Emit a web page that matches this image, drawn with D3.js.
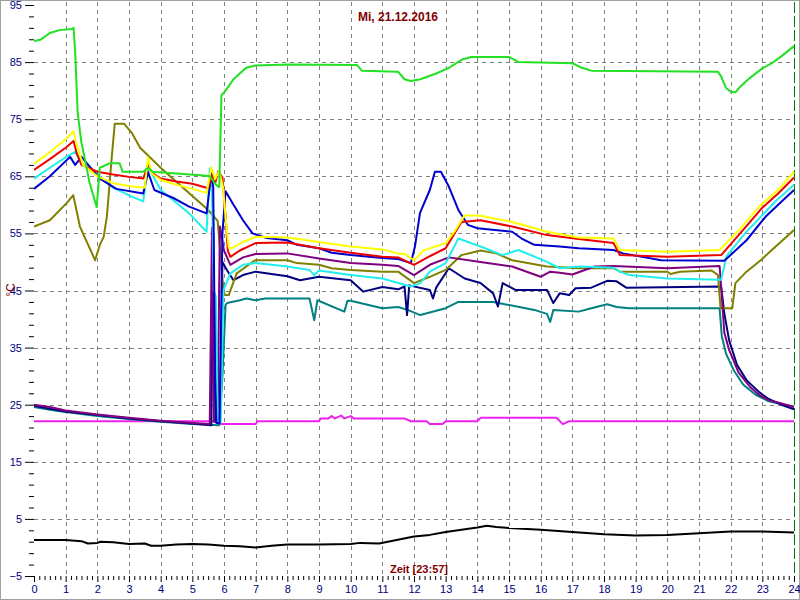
<!DOCTYPE html>
<html><head><meta charset="utf-8">
<script src="https://cdn.jsdelivr.net/npm/d3@7"></script>
<style>html,body{margin:0;padding:0;background:#fff;}svg{display:block;}</style>
</head><body>
<script>
// ---- data: [hour, °C] ----
const title = "Mi, 21.12.2016";
const xTitle = "Zeit [23:57]";
const yTitle = "°C";
const xTickLabels = d3.range(0, 25);
const yTickLabels = [-5, 5, 15, 25, 35, 45, 55, 65, 75, 85, 95];

const green = [[0,88.7],[0.2,88.9],[0.5,90.1],[0.8,90.6],[1.2,90.8],[1.25,91.0],[1.3,86.8],[1.38,76.1],[1.5,70.8],[1.55,69.6],[1.75,64],[1.98,59.6],[2.08,66.5],[2.4,67.3],[2.7,67.3],[2.8,65.8],[3.45,65.8],[3.6,66.5],[3.75,65.8],[5.25,65.2],[5.55,65],[5.75,63.5],[5.85,63.1],[5.92,79.2],[6.05,80],[6.3,82],[6.7,84],[7,84.4],[8,84.6],[10.2,84.5],[10.35,83.5],[11.5,83.3],[11.7,82],[11.9,81.7],[12.2,82],[12.7,83],[13.1,84],[13.5,85.4],[13.8,85.9],[15,85.9],[15.3,85],[17,84.8],[17.3,84],[17.6,83.5],[21.6,83.3],[21.7,82.5],[21.85,80.5],[22.0,79.8],[22.15,79.7],[22.3,80.7],[22.6,82.2],[23,83.9],[23.3,84.8],[23.6,86],[24,87.8]];
const yellow = [[0,67.2],[0.5,69.2],[1,71.5],[1.25,72.9],[1.35,70.5],[1.55,67],[2,65],[2.5,63.8],[3,63.3],[3.5,63],[3.6,68.3],[3.72,65.5],[4,64.4],[4.5,63.5],[5,62.8],[5.45,62.1],[5.6,66.6],[5.72,64.5],[5.85,66],[5.97,63],[6.08,56],[6.15,52.5],[6.25,52.4],[6.6,53.5],[7,54.4],[8,54.3],[9,53.5],[10,52.7],[11,52.2],[11.5,51.5],[11.7,51.4],[12,50.3],[12.3,52],[13,53.3],[13.3,55.5],[13.6,58.2],[14.1,58.1],[15.1,57],[16.2,55.3],[17.2,54.3],[18.3,54.1],[18.5,52.1],[20,51.8],[21.65,52.1],[22.3,55.8],[22.9,59.7],[23.5,62.6],[24,65.8]];
const red = [[0,66.1],[0.5,68],[1,70],[1.25,71.2],[1.35,69],[1.5,67],[2,65.8],[2.5,65.3],[3,64.9],[3.45,64.6],[3.6,67],[3.75,65.5],[4,64.6],[4.5,64.1],[5,63.7],[5.5,62.9],[5.62,65.2],[5.72,63.8],[5.82,65.9],[5.95,64.8],[6.05,58],[6.12,52],[6.2,50.9],[6.5,52],[7,53.3],[8,53.4],[9,52.4],[10,51.6],[11,50.9],[11.5,50.8],[12,49.5],[12.5,51],[13,52.4],[13.5,57],[14.1,57.3],[15.1,56.2],[16.2,54.7],[17.2,54.0],[18.3,53.3],[18.5,51.2],[20,50.9],[21.7,51.2],[22.3,55],[23,59.5],[23.5,62],[24,64.8]];
const blue = [[0,62.8],[0.5,65],[1.14,68.4],[1.3,67],[1.5,68.4],[2.08,64.6],[2.6,62.8],[3.45,62],[3.6,65.8],[3.8,62.6],[4.4,61.2],[4.9,59.7],[5.45,58.5],[5.6,65.5],[5.66,63],[5.72,30],[5.76,21.8],[5.86,21.8],[5.95,55],[6.05,62.4],[6.3,60],[6.6,57.3],[6.9,55],[7.35,54.2],[8,53.8],[8.3,53],[9,52.4],[9.4,51.6],[10,51.2],[11,50.7],[11.5,50.5],[11.9,49.8],[12.03,52.7],[12.19,58.6],[12.5,62.6],[12.66,65.8],[12.85,65.8],[13.1,63.2],[13.4,59.1],[13.7,56.5],[14,55.9],[15.1,55.3],[15.4,54.1],[15.8,53],[16.6,52.7],[17.2,52.4],[18.3,52.1],[18.6,51.5],[19.8,50.3],[21.8,50.2],[22.5,53.8],[23.1,57.9],[23.65,60.8],[24,62.6]];
const cyan = [[0,64.6],[0.5,66.5],[1,68.3],[1.3,69.3],[1.5,67.3],[2.08,64.9],[2.5,63],[3.1,61.4],[3.45,60.6],[3.6,66.7],[4,62.6],[4.4,60.8],[4.9,58.5],[5.45,55.3],[5.55,66.4],[5.62,62],[5.68,45],[5.74,44],[5.8,22],[5.9,22],[5.98,45],[6.2,48],[6.6,49.5],[7,49.8],[8,49.2],[8.7,48.6],[8.85,47.7],[9,48.5],[10,47.7],[11,47.1],[11.9,45.7],[12.2,46.3],[12.5,48.3],[13,49.8],[13.4,54.1],[14.1,52.7],[14.8,51.2],[15.3,52.1],[16.2,50],[16.6,48.9],[17.2,49.2],[18.3,49],[18.5,48.3],[18.8,47.7],[20,47.1],[21.7,46.9],[21.87,51],[22.5,55.3],[23.45,60.8],[24,63.5]];
const purple = [[0,25],[0.5,24.6],[1,24],[2,23.3],[3,22.7],[4,22.2],[5,21.8],[5.55,21.6],[5.62,56],[5.68,22],[5.8,22],[5.87,56.2],[6.0,52],[6.2,49.5],[6.6,50.8],[7,51.4],[8,51.5],[9,50.6],[10,49.8],[11,49.5],[11.5,49.3],[12,47.7],[12.5,49.5],[13.1,50.8],[14.1,50],[15.1,49.2],[16,47.4],[16.3,48.3],[16.6,48.1],[17,47.8],[17.7,49.2],[18.3,49.3],[20,48.9],[21.65,49.3],[21.72,44],[21.8,37.6],[21.95,34.6],[22.25,30.6],[22.6,28.2],[22.9,26.7],[23.2,25.8],[23.55,25.3],[24,24.6]];
const olive = [[0,56.2],[0.5,57.3],[1.03,60.3],[1.24,61.7],[1.45,56.2],[1.93,50.3],[2.08,53],[2.2,54.4],[2.3,57.9],[2.45,68],[2.55,74.2],[2.85,74.2],[3.1,72.5],[3.35,70],[4,66.5],[4.6,63.5],[5.5,59.1],[5.8,57.2],[5.95,47],[6.02,44.2],[6.15,44.2],[6.4,48],[6.9,50],[7,50.3],[8,50.3],[8.3,49.8],[9,49.5],[9.4,48.9],[10,48.6],[11,48.3],[11.5,48.3],[12,46.3],[12.5,47.4],[13,48.6],[13.5,51.2],[14.1,52],[14.6,51.5],[15.1,50.3],[16.2,49.2],[17.2,48.9],[18.3,48.9],[18.5,48.3],[20,48.3],[20.1,47.9],[20.4,48.3],[21.4,48.5],[21.6,47.7],[21.68,41.9],[22.05,41.9],[22.15,46.3],[22.5,48.3],[22.95,50.3],[23.3,52.1],[24,55.6]];
const navy = [[0,24.8],[0.5,24.3],[1,23.8],[2,23.2],[3,22.6],[4,22.1],[5,21.7],[5.6,21.4],[5.66,55],[5.73,22],[5.87,22],[5.95,50],[6.1,48.5],[6.3,46.8],[6.6,47.7],[7,48.3],[8,47.5],[8.4,46.8],[9,47.4],[9.5,47.1],[10,46.8],[10.4,44.8],[11,45.6],[11.5,45.2],[11.7,45.7],[11.78,40.7],[11.85,45.9],[12.5,45.1],[12.6,43.6],[12.7,45.5],[13.1,48.9],[13.6,47.1],[14.1,46.3],[14.5,44.5],[14.65,42.2],[14.8,46.3],[15.2,45.1],[16.2,45.1],[16.4,42.8],[16.6,44.5],[16.9,44.2],[17.1,45.4],[17.6,45.5],[18.1,46.7],[18.4,46.6],[18.7,45.5],[21.7,45.7],[21.8,41],[21.95,36.3],[22.2,32],[22.5,29.3],[22.9,27.2],[23.2,26],[23.6,25],[24,24.2]];
const teal = [[0,24.6],[0.5,24.1],[1,23.7],[2,23],[3,22.5],[4,22],[5,21.6],[5.85,21.4],[5.95,30],[6.05,42.5],[6.1,42.8],[6.5,43.3],[6.7,43.6],[7,43.3],[7.3,43.6],[8.7,43.6],[8.85,39.8],[8.95,43.3],[9.8,41.3],[9.9,43.2],[10,43.2],[11,41.9],[11.5,42.1],[11.8,41.6],[12.2,40.7],[13,41.9],[13.4,43],[14.5,43],[15.8,41.6],[16.2,40.9],[16.3,39.5],[16.4,41.6],[17.2,41.3],[17.6,41.9],[18.1,42.6],[18.4,42.1],[18.8,41.9],[21.65,41.9],[21.72,37],[21.85,34],[22.1,31],[22.4,28.5],[22.8,26.7],[23.2,25.6],[23.6,25.1],[24,24.7]];
const magenta = [[0,22.1],[5.85,22.1],[5.9,21.6],[7,21.6],[7.05,22.1],[9,22.1],[9.05,22.6],[9.3,22.6],[9.4,23],[9.5,22.6],[9.7,23.1],[9.8,22.6],[10,23],[10.1,22.6],[11.7,22.6],[11.9,22.1],[12.4,22.1],[12.5,21.6],[12.9,21.6],[13,22.1],[14,22.1],[14.1,22.7],[16.5,22.7],[16.7,21.6],[16.9,22.1],[24,22.1]];
const black = [[0,1.3],[1,1.3],[1.5,1.1],[1.7,0.7],[2,0.8],[2.1,1.0],[2.5,0.9],[3,0.6],[3.5,0.7],[3.7,0.3],[4,0.3],[4.5,0.5],[5,0.6],[5.5,0.5],[6,0.3],[6.5,0.2],[7,0.0],[7.5,0.3],[8,0.5],[9,0.5],[10,0.6],[10.3,0.8],[10.9,0.7],[11.45,1.3],[12,1.9],[12.5,2.2],[13,2.7],[13.5,3.1],[14,3.5],[14.3,3.8],[14.6,3.6],[15,3.4],[16,3.1],[17,2.7],[18,2.3],[19,2.1],[20,2.2],[21,2.5],[22,2.8],[23,2.8],[24,2.6]];

const seriesList = [
  {data: magenta, color: "#ee22ee"},
  {data: black,   color: "#000000"},
  {data: teal,    color: "#008080"},
  {data: navy,    color: "#000080"},
  {data: olive,   color: "#808000"},
  {data: purple,  color: "#800080"},
  {data: cyan,    color: "#22eeee"},
  {data: blue,    color: "#0000d0"},
  {data: red,     color: "#ee0000"},
  {data: yellow,  color: "#ffff00"},
  {data: green,   color: "#22e022"}
];

// ---- layout ----
const W = 800, H = 600;
const L = 34, R = 794, T = 5, B = 576;
const x = d3.scaleLinear().domain([0, 24]).range([L, R]);
const y = d3.scaleLinear().domain([-5, 95]).range([B, T]);

const svg = d3.select("body").append("svg").attr("width", W).attr("height", H)
  .style("font-family", "Arial, 'Liberation Sans', sans-serif");
svg.append("rect").attr("x", 0).attr("y", 0).attr("width", W).attr("height", H).attr("fill", "#fff");
svg.append("rect").attr("x", 0.5).attr("y", 0.5).attr("width", W - 1).attr("height", H - 1)
  .attr("fill", "none").attr("stroke", "#a0a0a0").attr("stroke-width", 1);

// grid
const g = svg.append("g");
g.selectAll(".hg").data(yTickLabels.filter(v => v > -5 && v < 95)).enter().append("line")
  .attr("x1", L).attr("x2", R).attr("y1", d => Math.round(y(d)) + 0.5).attr("y2", d => Math.round(y(d)) + 0.5)
  .attr("stroke", "#808080").attr("stroke-dasharray", "4,4");
g.selectAll(".vg").data(xTickLabels.filter(v => v > 0 && v < 24)).enter().append("line")
  .attr("y1", T - 3).attr("y2", B).attr("x1", d => Math.round(x(d)) + 0.5).attr("x2", d => Math.round(x(d)) + 0.5)
  .attr("stroke", "#808080").attr("stroke-dasharray", "4,4");
g.append("line").attr("x1", Math.round(x(24)) + 0.5).attr("x2", Math.round(x(24)) + 0.5).attr("y1", T - 3).attr("y2", B)
  .attr("stroke", "#008000").attr("stroke-dasharray", "11,3");

// y axis ticks
const yAxis = d3.axisLeft(y).tickValues(d3.range(-5, 96, 2).filter(v => (v + 5) % 10 !== 0)).tickSize(5).tickFormat("");
svg.append("g").attr("transform", `translate(${L},0)`).call(yAxis)
  .call(s => s.select(".domain").remove()).selectAll("line").attr("stroke", "#000");
const yAxisMaj = d3.axisLeft(y).tickValues(yTickLabels).tickSize(9).tickPadding(3);
svg.append("g").attr("transform", `translate(${L},0)`).call(yAxisMaj)
  .call(s => s.select(".domain").remove())
  .call(s => s.selectAll("line").attr("stroke", "#000"))
  .call(s => s.selectAll("text").attr("fill", "#000080").style("font-size", "11px").style("font-family", "Arial, 'Liberation Sans', sans-serif"));

// x axis ticks
const xAxisMin = d3.axisBottom(x).tickValues(d3.range(0, 24 * 6 + 1).filter(i => i % 6 !== 0).map(i => i / 6)).tickSize(4).tickFormat("");
svg.append("g").attr("transform", `translate(0,${B})`).call(xAxisMin)
  .call(s => s.select(".domain").remove()).selectAll("line").attr("stroke", "#000");
const xAxisMaj = d3.axisBottom(x).tickValues(xTickLabels).tickSize(6).tickPadding(3).tickFormat(d3.format("d"));
svg.append("g").attr("transform", `translate(0,${B})`).call(xAxisMaj)
  .call(s => s.select(".domain").remove())
  .call(s => s.selectAll("line").attr("stroke", "#000"))
  .call(s => s.selectAll("text").attr("fill", "#000080").style("font-size", "11px").style("font-family", "Arial, 'Liberation Sans', sans-serif"));

// lines
svg.append("clipPath").attr("id", "clip").append("rect").attr("x", L).attr("y", T - 3).attr("width", R - L + 1).attr("height", B - T + 3);
const line = d3.line().x(d => x(d[0])).y(d => y(d[1]));
svg.append("g").attr("clip-path", "url(#clip)").selectAll("path").data(seriesList).enter().append("path")
  .attr("d", d => line(d.data)).attr("fill", "none").attr("stroke", d => d.color)
  .attr("stroke-width", 2).attr("stroke-linejoin", "round");

// titles
svg.append("text").attr("x", 398).attr("y", 21).attr("text-anchor", "middle")
  .attr("fill", "#800000").style("font-size", "12px").style("font-weight", "bold").text(title);
svg.append("text").attr("x", 419).attr("y", 573).attr("text-anchor", "middle")
  .attr("fill", "#800000").style("font-size", "11px").style("font-weight", "bold").text(xTitle);
svg.append("text").attr("transform", "translate(15,290) rotate(-90)").attr("text-anchor", "middle")
  .attr("fill", "#800000").style("font-size", "12px").text(yTitle);
</script>
</body></html>
